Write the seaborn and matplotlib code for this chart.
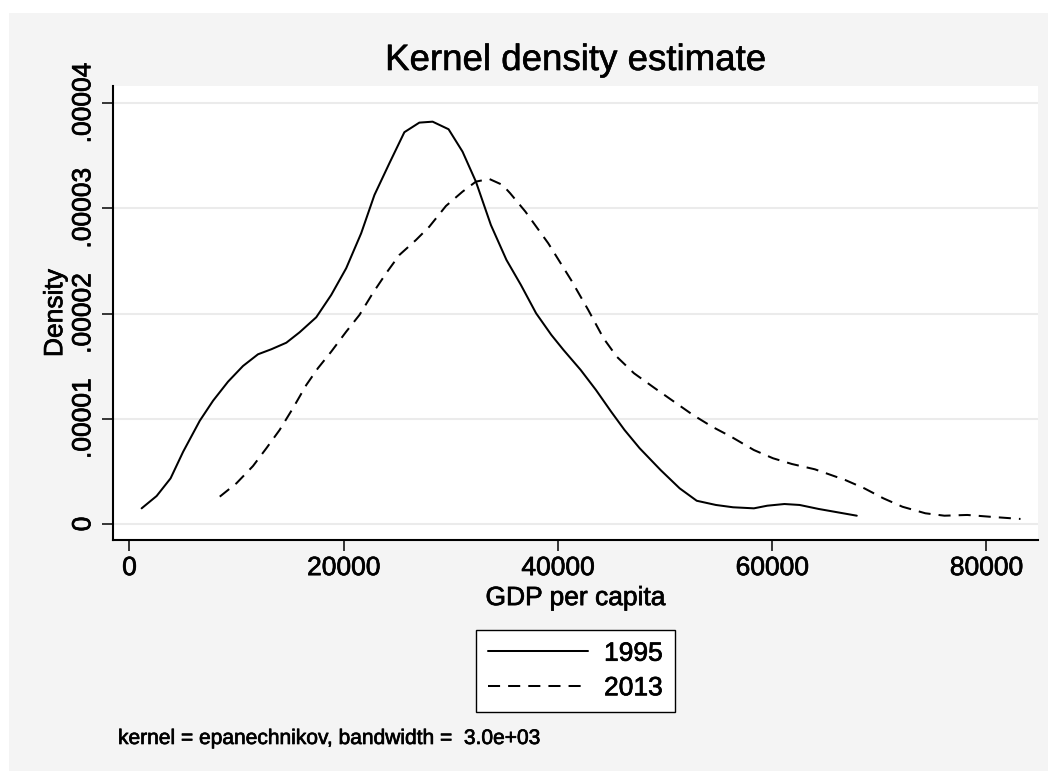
import matplotlib
matplotlib.use("Agg")
import matplotlib.pyplot as plt
import matplotlib.patheffects as pe
from matplotlib.lines import Line2D
from matplotlib.patches import Rectangle
import numpy as np
import pandas as pd
import seaborn as sns

# Kernel density estimates of GDP per capita (evaluation points and densities)
years = ["1995", "2013"]

gdp_1995 = [1136, 2534, 3838, 5012, 6567, 7806, 9203, 10600, 11998, 13246, 14643,
            15882, 17438, 18835, 20233, 21630, 22869, 24266, 25664, 27061, 28300,
            29790, 31094, 32342, 33740, 35193, 36544, 37960, 39385, 40521, 42124,
            43549, 44965, 46213, 47629, 49585, 51364, 52957, 54745, 56347, 58294,
            59542, 61144, 62560, 64339, 66118, 67898]
dens_1995 = [1.49, 2.66, 4.34, 6.87, 9.82, 11.72, 13.53, 15.02, 16.13, 16.61, 17.23,
             18.22, 19.65, 21.77, 24.31, 27.63, 31.27, 34.29, 37.24, 38.15, 38.24,
             37.52, 35.39, 32.54, 28.42, 25.10, 22.72, 20.03, 17.97, 16.54, 14.64,
             12.74, 10.68, 8.94, 7.20, 5.13, 3.39, 2.21, 1.81, 1.59, 1.49,
             1.74, 1.90, 1.81, 1.43, 1.11, 0.79]  # x 1e-6

gdp_2013 = [8430, 9986, 11532, 12780, 14019, 15258, 16506, 17587, 18835, 20233,
            21471, 22710, 23959, 25197, 26753, 27992, 29547, 31094, 32342, 33581,
            34820, 35537, 36963, 39096, 41229, 42831, 44256, 45495, 47097, 49053,
            50832, 52611, 54391, 56161, 58294, 60073, 61852, 63985, 66826, 68605,
            70384, 72164, 74297, 76076, 78209, 80342, 83183]
dens_2013 = [2.60, 3.87, 5.51, 7.20, 8.94, 11.00, 13.21, 14.80, 16.38, 18.28,
             19.87, 21.93, 23.83, 25.57, 27.00, 28.26, 30.23, 31.59, 32.54, 32.80,
             32.23, 31.44, 29.69, 26.68, 23.19, 20.34, 17.65, 15.90, 14.33, 12.90,
             11.63, 10.36, 9.25, 8.30, 7.03, 6.25, 5.70, 5.20, 4.18, 3.39,
             2.44, 1.64, 1.02, 0.79, 0.86, 0.69, 0.48]  # x 1e-6

x_ticks = [0, 20000, 40000, 60000, 80000]
x_tick_labels = ["0", "20000", "40000", "60000", "80000"]
y_ticks = [0, 1e-5, 2e-5, 3e-5, 4e-5]
y_tick_labels = ["0", ".00001", ".00002", ".00003", ".00004"]

df = pd.concat([
    pd.DataFrame({"gdp": gdp_1995, "density": np.array(dens_1995) * 1e-6, "year": years[0]}),
    pd.DataFrame({"gdp": gdp_2013, "density": np.array(dens_2013) * 1e-6, "year": years[1]}),
], ignore_index=True)

sns.set_theme(style="white")
plt.rcParams["font.family"] = ["Liberation Sans", "DejaVu Sans"]
plt.rcParams["text.color"] = "black"
plt.rcParams["axes.labelcolor"] = "black"
plt.rcParams["xtick.color"] = "black"
plt.rcParams["ytick.color"] = "black"

# slightly heavier glyph rendering
heavy = [pe.withStroke(linewidth=0.5, foreground="black")]

fig = plt.figure(figsize=(10.48, 7.71), dpi=100, facecolor="white")
# light grey graph region
fig.patches.append(Rectangle((9 / 1048, 0), 1 - 9 / 1048, 1 - 13 / 771,
                             transform=fig.transFigure, facecolor="#f4f4f4",
                             edgecolor="none", zorder=-10))

ax = fig.add_axes([113 / 1048, 1 - 540 / 771, (1038 - 113) / 1048, (540 - 86) / 771])
ax.set_facecolor("white")

lw = 1.45
line_dashes = {years[0]: "", years[1]: (6, 4)}
sns.lineplot(data=df, x="gdp", y="density", style="year", dashes=line_dashes,
             color="black", linewidth=lw, estimator=None, sort=False,
             legend=False, ax=ax)

ax.set_xlim(-1537, 84816)
ax.set_ylim(-1.52e-6, 4.163e-5)

ax.set_xticks(x_ticks, x_tick_labels)
ax.set_yticks(y_ticks, y_tick_labels)
for lab in ax.get_yticklabels():
    lab.set_rotation(90)
    lab.set_va("center")
for lab in ax.get_xticklabels() + ax.get_yticklabels():
    lab.set_path_effects(heavy)

ax.grid(axis="y", color="#ebebeb", linewidth=1.5)
ax.grid(axis="x", visible=False)
ax.set_axisbelow(True)

for side in ["top", "right"]:
    ax.spines[side].set_visible(False)
for side in ["left", "bottom"]:
    ax.spines[side].set_color("black")
    ax.spines[side].set_linewidth(1.5)

ax.tick_params(axis="both", direction="out", length=8, width=1.1, colors="black",
               labelsize=19, left=True, bottom=True)
ax.tick_params(axis="x", pad=3.6)
ax.tick_params(axis="y", pad=4.7)

ax.set_xlabel("GDP per capita", fontsize=19, labelpad=4.3, color="black",
              path_effects=heavy)
ax.set_ylabel("Density", fontsize=19, labelpad=3, color="black",
              path_effects=heavy)
ax.set_title("Kernel density estimate", fontsize=26.4, pad=11.5, color="black",
             path_effects=[pe.withStroke(linewidth=0.4, foreground="black")])

handles = [Line2D([], [], color="black", linewidth=lw, linestyle="-"),
           Line2D([], [], color="black", linewidth=lw, dashes=(6, 4))]
leg = fig.legend(handles, years, loc="center", bbox_to_anchor=(0.549, 0.1297),
                 handlelength=3.8, handletextpad=0.6, borderpad=0.46,
                 labelspacing=0.4, fontsize=19, frameon=True, fancybox=False,
                 edgecolor="black", facecolor="white", framealpha=1,
                 labelcolor="black")
leg.get_frame().set_linewidth(1.0)
for t in leg.get_texts():
    t.set_path_effects(heavy)

fig.text(118 / 1048, 1 - 744 / 771,
         "kernel = epanechnikov, bandwidth =  3.0e+03",
         fontsize=15.1, va="baseline", ha="left", color="black",
         path_effects=heavy)

fig.savefig("out.png", dpi=100, facecolor=fig.get_facecolor())
